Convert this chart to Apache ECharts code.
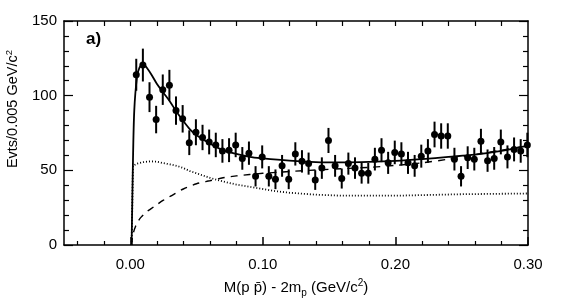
<!DOCTYPE html>
<html>
<head>
<meta charset="utf-8">
<script src="https://cdn.jsdelivr.net/npm/echarts@6/dist/echarts.min.js"></script>
<style>
html,body{margin:0;padding:0;background:#fff;}
#chart{width:568px;height:306px;}
</style>
</head>
<body>
<div id="chart"></div>
<script>
// Data points (bin centres, counts, errors)
var binX = [0.0045,0.0095,0.0145,0.0195,0.0245,0.0295,0.0345,0.0395,0.0445,0.0495,
            0.0545,0.0595,0.0645,0.0695,0.0745,0.0795,0.0845,0.0895,0.0945,0.0995,
            0.1045,0.1095,0.1145,0.1195,0.1245,0.1295,0.1345,0.1395,0.1445,0.1495,
            0.1545,0.1595,0.1645,0.1695,0.1745,0.1795,0.1845,0.1895,0.1945,0.1995,
            0.2045,0.2095,0.2145,0.2195,0.2245,0.2295,0.2345,0.2395,0.2445,0.2495,
            0.2545,0.2595,0.2645,0.2695,0.2745,0.2795,0.2845,0.2895,0.2945,0.2995];
var counts = [114,120.5,99,84,104,107,90,84.5,68.5,75.5,
              72,69,67,63,63.5,67,58,61.5,46,59,
              46,44,53,44,61,56,54.5,43.5,51.5,70,
              53,44.5,54.5,51.5,48,48,57.5,63.5,55,62,
              61,55,53,59.5,63,74,73,73,57.5,46,
              58.5,57.5,69.5,56.5,58,69,59,64,63,67];
var errors = [10.7,11,10,9.2,10.2,10.3,9.5,9.2,8.3,8.7,
              8.5,8.3,8.2,7.9,8,8.2,7.6,7.8,6.8,7.7,
              6.8,6.6,7.3,6.6,7.8,7.5,7.4,6.6,7.2,8.4,
              7.3,6.7,7.4,7.2,6.9,6.9,7.6,8,7.4,7.9,
              7.8,7.4,7.3,7.7,7.9,8.6,8.5,8.5,7.6,6.8,
              7.6,7.6,8.3,7.5,7.6,8.3,7.7,8,7.9,8.2];

// Total fit (solid)
var fitX = [0.001,0.002,0.003,0.005,0.007,0.010,0.013,0.016,0.020,0.025,0.030,0.035,0.040,0.045,0.050,
            0.060,0.070,0.080,0.090,0.100,0.120,0.140,0.160,0.180,0.200,0.220,0.240,0.260,0.280,0.300];
var fitY = [0,55,90,112,119,121,118,114,108,102,96,89,83,77.5,73.5,
            68,63.5,61,59,58,56.5,55.5,55.3,55.6,56.3,57.5,59,60.5,63,66.5];

// Dotted component
var dotX = [0.001,0.002,0.005,0.010,0.015,0.020,0.025,0.030,0.035,0.040,0.045,0.050,0.060,0.070,
            0.080,0.090,0.100,0.110,0.120,0.140,0.160,0.200,0.250,0.300];
var dotY = [0,53,54.5,55.5,56,55.8,54.8,54,53,51.5,49.5,48,45,42.5,
            40.5,39,37.5,36,35,33.7,33,33,34,34.5];

// Dashed component
var dashX = [0.001,0.002,0.004,0.006,0.008,0.012,0.016,0.020,0.025,0.030,0.040,0.050,0.060,0.070,
             0.080,0.090,0.100,0.120,0.150,0.180,0.200,0.220,0.240,0.260,0.280,0.300];
var dashY = [0,7,12.5,16,18.5,22,24.5,27,30,32.5,37.5,41,43,45,
             46.3,47.2,48,49.2,50.7,52,53.3,55,57.5,60.5,63.5,66.5];

// Axis ticks / labels
var xLabelVals = [0,0.1,0.2,0.3];
var xMinorTicks = [-0.04,-0.02,0.02,0.04,0.06,0.08,0.12,0.14,0.16,0.18,0.22,0.24,0.26,0.28];
var xAllTicks = [-0.04,-0.02,0,0.02,0.04,0.06,0.08,0.10,0.12,0.14,0.16,0.18,0.20,0.22,0.24,0.26,0.28];

function pairs(a,b){ return a.map(function(v,i){ return [v,b[i]]; }); }

var chart = echarts.init(document.getElementById('chart'), null, {renderer:'canvas'});
var FONT = 'Liberation Sans';
var black = '#000';

var pts = binX.map(function(x,i){ return [x, counts[i], errors[i]]; });

var option = {
  backgroundColor:'#fff',
  animation:false,
  grid:{left:64,right:40,top:21,bottom:61,containLabel:false},
  xAxis:[
    {type:'value',min:-0.05,max:0.30,position:'bottom',
     axisLine:{show:true,onZero:false,lineStyle:{color:black,width:1.6}},
     axisTick:{show:true,inside:true,length:4,customValues:xMinorTicks,lineStyle:{color:black,width:1.2}},
     axisLabel:{show:true,customValues:xLabelVals,formatter:function(v){return v.toFixed(2);},
                fontFamily:FONT,fontSize:15,color:black,margin:12},
     splitLine:{show:false},
     name:'{t|M(p p\u0304) - 2m}{s|p}{t| (GeV/c}{u|2}{t|)}',
     nameLocation:'middle',nameGap:33,
     nameTextStyle:{fontFamily:FONT,fontSize:15,color:black,
       rich:{t:{fontFamily:FONT,fontSize:15,color:black,lineHeight:20,verticalAlign:'middle'},
             s:{fontFamily:FONT,fontSize:10,color:black,lineHeight:20,verticalAlign:'bottom'},
             u:{fontFamily:FONT,fontSize:10,color:black,lineHeight:20,verticalAlign:'top'}}}},
    {type:'value',min:-0.05,max:0.30,position:'bottom',
     axisLine:{show:false},
     axisTick:{show:true,inside:true,length:8,customValues:xLabelVals,lineStyle:{color:black,width:1.5}},
     axisLabel:{show:false},splitLine:{show:false}},
    {type:'value',min:-0.05,max:0.30,position:'top',
     axisLine:{show:true,onZero:false,lineStyle:{color:black,width:1.6}},
     axisTick:{show:true,inside:true,length:5,customValues:xAllTicks,lineStyle:{color:black,width:1.2}},
     axisLabel:{show:false},splitLine:{show:false}}
  ],
  yAxis:[
    {type:'value',min:0,max:150,interval:50,position:'left',
     axisLine:{show:true,onZero:false,lineStyle:{color:black,width:1.5}},
     axisTick:{show:true,inside:true,length:9,lineStyle:{color:black,width:1.2}},
     minorTick:{show:true,splitNumber:5,length:5,lineStyle:{color:black,width:1.2}},
     axisLabel:{fontFamily:FONT,fontSize:15,color:black,margin:7},
     splitLine:{show:false}},
    {type:'value',min:0,max:150,interval:50,position:'right',
     axisLine:{show:true,onZero:false,lineStyle:{color:black,width:1.5}},
     axisTick:{show:true,inside:true,length:9,lineStyle:{color:black,width:1.2}},
     minorTick:{show:true,splitNumber:5,length:5,lineStyle:{color:black,width:1.2}},
     axisLabel:{show:false},splitLine:{show:false}}
  ],
  graphic:[
    {type:'text',left:4,top:50,rotation:Math.PI/2,
     style:{text:'{t|Evts/0.005 GeV/c}{u|2}',
       rich:{t:{fontFamily:FONT,fontSize:14.5,fill:black,lineHeight:18,verticalAlign:'middle'},
             u:{fontFamily:FONT,fontSize:9.5,fill:black,lineHeight:18,verticalAlign:'top'}}}},
    {type:'text',left:86,top:31,
     style:{text:'a)',fontFamily:FONT,fontSize:17,fontWeight:'bold',fill:black}}
  ],
  series:[
    {type:'line',name:'dotted',data:pairs(dotX,dotY),showSymbol:false,symbol:'none',
     lineStyle:{color:black,width:1.8,type:[1,2]},z:2},
    {type:'line',name:'dashed',data:pairs(dashX,dashY),showSymbol:false,symbol:'none',smooth:0.3,
     lineStyle:{color:black,width:1.4,type:[7,6]},z:2},
    {type:'line',name:'fit',data:pairs(fitX,fitY),showSymbol:false,symbol:'none',smooth:0.3,
     lineStyle:{color:black,width:1.8},z:3},
    {type:'custom',name:'data',data:pts,clip:false,z:4,
     renderItem:function(params,api){
       var x=api.value(0), y=api.value(1), e=api.value(2);
       var c=api.coord([x,y]), lo=api.coord([x,y-e]), hi=api.coord([x,y+e]);
       return {type:'group',children:[
         {type:'line',shape:{x1:c[0],y1:lo[1],x2:c[0],y2:hi[1]},style:{stroke:black,lineWidth:2}},
         {type:'circle',shape:{cx:c[0],cy:c[1],r:3.5},style:{fill:black}}
       ]};
     },
     encode:{x:0,y:1}}
  ]
};
chart.setOption(option);
</script>
</body>
</html>
